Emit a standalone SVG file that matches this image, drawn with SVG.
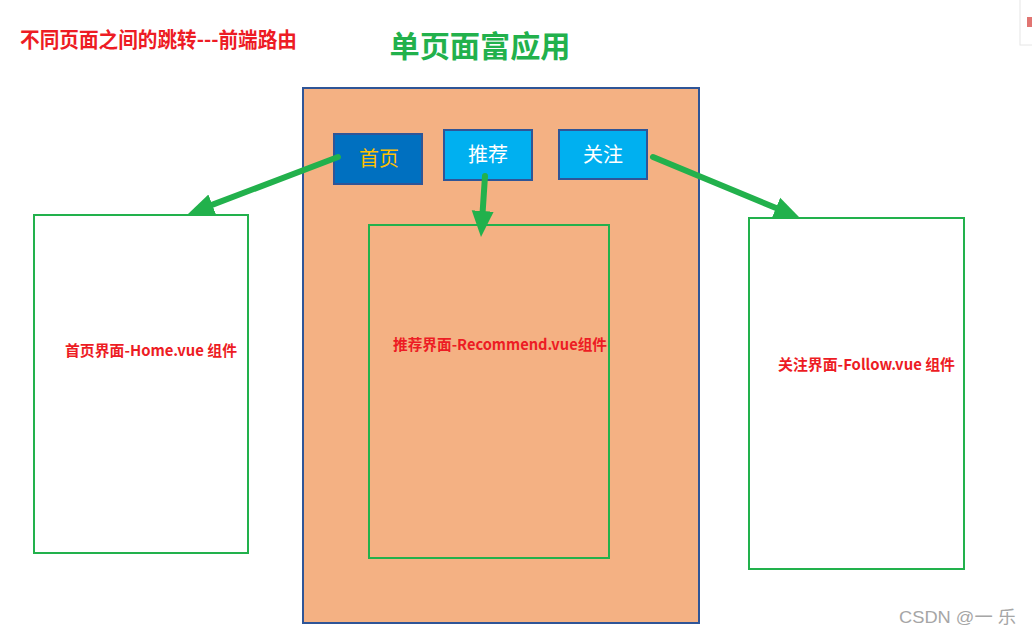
<svg xmlns="http://www.w3.org/2000/svg" width="1032" height="635" viewBox="0 0 1032 635">
<defs>
<style>
.cap{font-family:"Noto Sans CJK SC","Liberation Sans",sans-serif;font-weight:bold;fill:#ED1C24;}
.page{fill:#FFFFFF;stroke:#22B14C;stroke-width:2;}
.tab{stroke:#2F5597;stroke-width:2;}
.tabt{font-family:"Noto Sans CJK SC",sans-serif;font-size:20px;text-anchor:middle;}
.conn{stroke:#22B14C;stroke-width:6;stroke-linecap:round;fill:none;}
</style>
<marker id="ah" markerUnits="userSpaceOnUse" markerWidth="30" markerHeight="30" viewBox="0 0 30 30" refX="6" refY="12" orient="auto">
<path d="M0,1 L26,12 L0,23 Z" fill="#22B14C"/>
</marker>
</defs>
<rect width="1032" height="635" fill="#FFFFFF"/>
<g id="corner">
<rect x="1020" y="-2" width="16" height="47" fill="#FFFFFF" stroke="#E6E6E6" stroke-width="1"/>
<rect x="1027" y="17" width="5" height="10" fill="#D9534F" opacity="0.8"/>
</g>
<text class="cap" x="20" y="47" font-size="21" textLength="277" lengthAdjust="spacingAndGlyphs">不同页面之间的跳转---前端路由</text>
<text x="480" y="57" font-family="Noto Sans CJK SC,sans-serif" font-weight="bold" font-size="30" fill="#22B14C" text-anchor="middle" textLength="181" lengthAdjust="spacingAndGlyphs">单页面富应用</text>
<g id="app">
<rect x="303" y="88" width="396" height="535" fill="#F4B183" stroke="#2F5597" stroke-width="2"/>
</g>
<g id="home-page">
<rect class="page" x="34" y="215" width="214" height="338"/>
<text class="cap" x="65" y="356" font-size="15" textLength="172" lengthAdjust="spacingAndGlyphs">首页界面-Home.vue 组件</text>
</g>
<g id="recommend-page">
<rect x="369" y="225" width="240" height="333" fill="none" stroke="#22B14C" stroke-width="2"/>
<text class="cap" x="393" y="350" font-size="15" textLength="214" lengthAdjust="spacingAndGlyphs">推荐界面-Recommend.vue组件</text>
</g>
<g id="follow-page">
<rect class="page" x="749" y="218" width="215" height="351"/>
<text class="cap" x="778" y="370" font-size="15" textLength="177" lengthAdjust="spacingAndGlyphs">关注界面-Follow.vue 组件</text>
</g>
<g id="tab-home">
<rect class="tab" x="334" y="134" width="88" height="50" fill="#0070C0"/>
<text class="tabt" x="379" y="166" fill="#FFC000">首页</text>
</g>
<g id="tab-recommend">
<rect class="tab" x="444" y="130" width="88" height="50" fill="#00B0F0"/>
<text class="tabt" x="488" y="162" fill="#FFFFFF">推荐</text>
</g>
<g id="tab-follow">
<rect class="tab" x="559" y="130" width="88" height="49" fill="#00B0F0"/>
<text class="tabt" x="603" y="162" fill="#FFFFFF">关注</text>
</g>
<g id="connectors">
<line class="conn" x1="338" y1="157" x2="206.7" y2="206.9" marker-end="url(#ah)"/>
<line class="conn" x1="485" y1="176" x2="482.3" y2="217" marker-end="url(#ah)"/>
<line class="conn" x1="653" y1="157" x2="781.5" y2="210.3" marker-end="url(#ah)"/>
</g>
<text x="899" y="623" font-family="Liberation Sans,Noto Sans CJK SC,sans-serif" font-size="17" fill="#A6A6A6" textLength="117" lengthAdjust="spacingAndGlyphs">CSDN @一 乐</text>
</svg>
